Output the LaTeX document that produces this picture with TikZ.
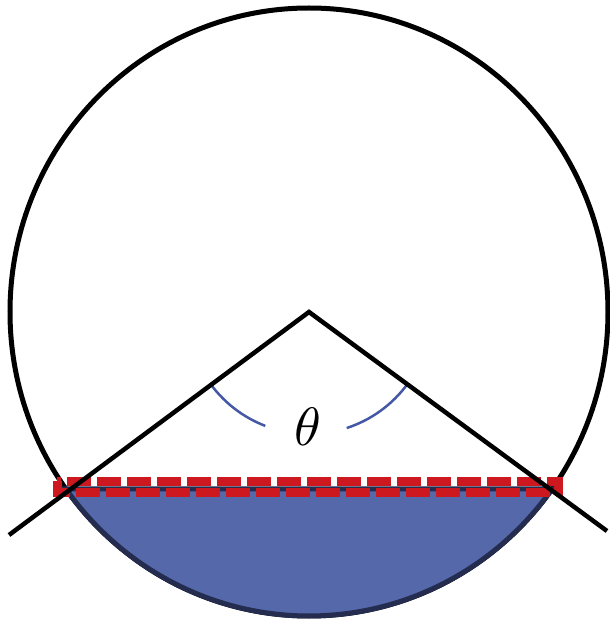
\documentclass[tikz,border=0pt]{standalone}
\usepackage{amsmath}
\usepackage{xcolor}
\usetikzlibrary{calc}

\definecolor{segblue}{RGB}{84,104,170}
\definecolor{segedge}{RGB}{36,44,80}
\definecolor{arcblue}{RGB}{68,88,166}
\definecolor{chordred}{RGB}{204,24,30}

\begin{document}
\begin{tikzpicture}[x=1pt,y=1pt]
	    \tikzstyle{rim}=[draw=black,line width=5pt]
	    \tikzstyle{segment}=[fill=segblue,draw=segedge,line width=5pt]
	    \tikzstyle{ray}=[draw=black,line width=4.5pt,line join=miter]
	    \tikzstyle{anglearc}=[draw=arcblue,line width=2.5pt]
	    \tikzstyle{chordbox}=[draw=chordred,line width=9pt,dash pattern=on 24pt off 6pt]

	    \useasboundingbox (0,0) rectangle (610,625);

	    \coordinate (O) at (309,313);
	    \coordinate (L) at (9,90);
	    \coordinate (R) at (607,94);
	    \coordinate (P) at ($(O)+(215.6:299 and 304)$);
	    \coordinate (Q) at ($(O)+(324.4:299 and 304)$);

	    %\draw[rim] (O) circle (300);
	    \draw[rim] (O) ellipse [x radius=299,y radius=304];

	    \path[segment] (P) arc[start angle=215.6,end angle=324.4,x radius=299,y radius=304] -- cycle;

	    \draw[chordbox] (57,143.5) rectangle (558,132.5);

	    \draw[anglearc] (O) ++(216.5:122) arc[start angle=216.5,end angle=249,radius=122];
	    \draw[anglearc] (O) ++(288:122) arc[start angle=288,end angle=323.8,radius=122];

	    \node[scale=5.4] (theta) at (308,198) {$\theta$};

	    \draw[ray] (L) -- (O) -- (R);
	\end{tikzpicture}
\end{document}
